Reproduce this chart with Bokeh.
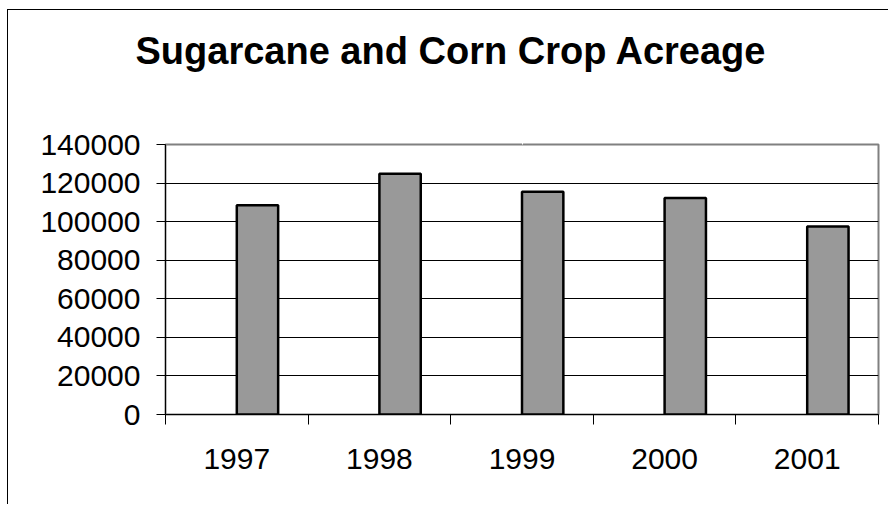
from bokeh.plotting import figure
from bokeh.models import (Range1d, FixedTicker, BasicTickFormatter, ColumnDataSource,
                          LinearAxis)
from bokeh.transform import dodge
from bokeh.embed import file_html
from bokeh.resources import INLINE

# ---- data ----
years = ["1997", "1998", "1999", "2000", "2001"]
acreage = [108500, 124800, 115500, 112200, 97500]
y_ticks = [0, 20000, 40000, 60000, 80000, 100000, 120000, 140000]
grid_ticks = [20000, 40000, 60000, 80000, 100000, 120000]

x_centers = [i + 0.5 for i in range(len(years))]
x_bounds = list(range(len(years) + 1))

src = ColumnDataSource(dict(x=x_centers, top=acreage, year=years))

p = figure(width=881, height=495, output_backend="svg", toolbar_location=None,
           x_range=Range1d(0, len(years)), y_range=Range1d(0, 140000),
           min_border_left=157, min_border_right=11, min_border_top=134,
           min_border_bottom=91, background_fill_color="white",
           border_fill_color="white")
p.styles = {"border-top": "1px solid black", "border-left": "1px solid black",
            "margin-left": "7px", "margin-top": "9px"}

xax = p.below[0]
yax = p.left[0]

# invisible spacer between title and plot area
spacer = LinearAxis(ticker=FixedTicker(ticks=[len(years) / 2]), major_tick_out=68,
                    major_tick_in=0, axis_line_color=None,
                    major_tick_line_color="white", minor_tick_line_color=None,
                    major_label_overrides={len(years) / 2: ""},
                    major_label_text_font_size="0px", major_label_standoff=0)
p.add_layout(spacer, "above")

p.title.text = "Sugarcane and Corn Crop Acreage"
p.title.text_font = "Liberation Sans"
p.title.text_font_size = "38px"
p.title.text_font_style = "bold"
p.title.text_color = "black"
p.title.align = "left"
p.title.offset = -30
p.title.standoff = 10

p.vbar(x=dodge("x", 0.145, range=p.x_range), top="top", bottom=0, width=0.29,
       source=src, fill_color="#999999", line_color="black", line_width=2.5)

# x axis: boundary ticks as minor ticks, labels at category centres
xax.ticker = FixedTicker(ticks=x_centers, minor_ticks=x_bounds)
xax.major_label_overrides = {c: y for c, y in zip(x_centers, years)}
xax.major_tick_out = 0
xax.major_tick_in = 0
xax.minor_tick_out = 10
xax.minor_tick_in = 0
xax.minor_tick_line_color = "black"
xax.major_label_standoff = 24

yax.ticker = FixedTicker(ticks=y_ticks)
yax.formatter = BasicTickFormatter(use_scientific=False)
yax.major_tick_out = 9
yax.major_tick_in = 0
yax.minor_tick_line_color = None
yax.major_label_standoff = 16

for ax in (xax, yax):
    ax.axis_line_color = "black"
    ax.axis_line_width = 1
    ax.major_tick_line_color = "black"
    ax.major_label_text_font = "Liberation Sans"
    ax.major_label_text_font_size = "30px"
    ax.major_label_text_color = "black"

p.xgrid.grid_line_color = None
p.ygrid.ticker = FixedTicker(ticks=grid_ticks)
p.ygrid.grid_line_color = "black"
p.ygrid.grid_line_width = 1

p.outline_line_color = "#808080"
p.outline_line_width = 2

open("out.html", "w").write(file_html(p, INLINE))
